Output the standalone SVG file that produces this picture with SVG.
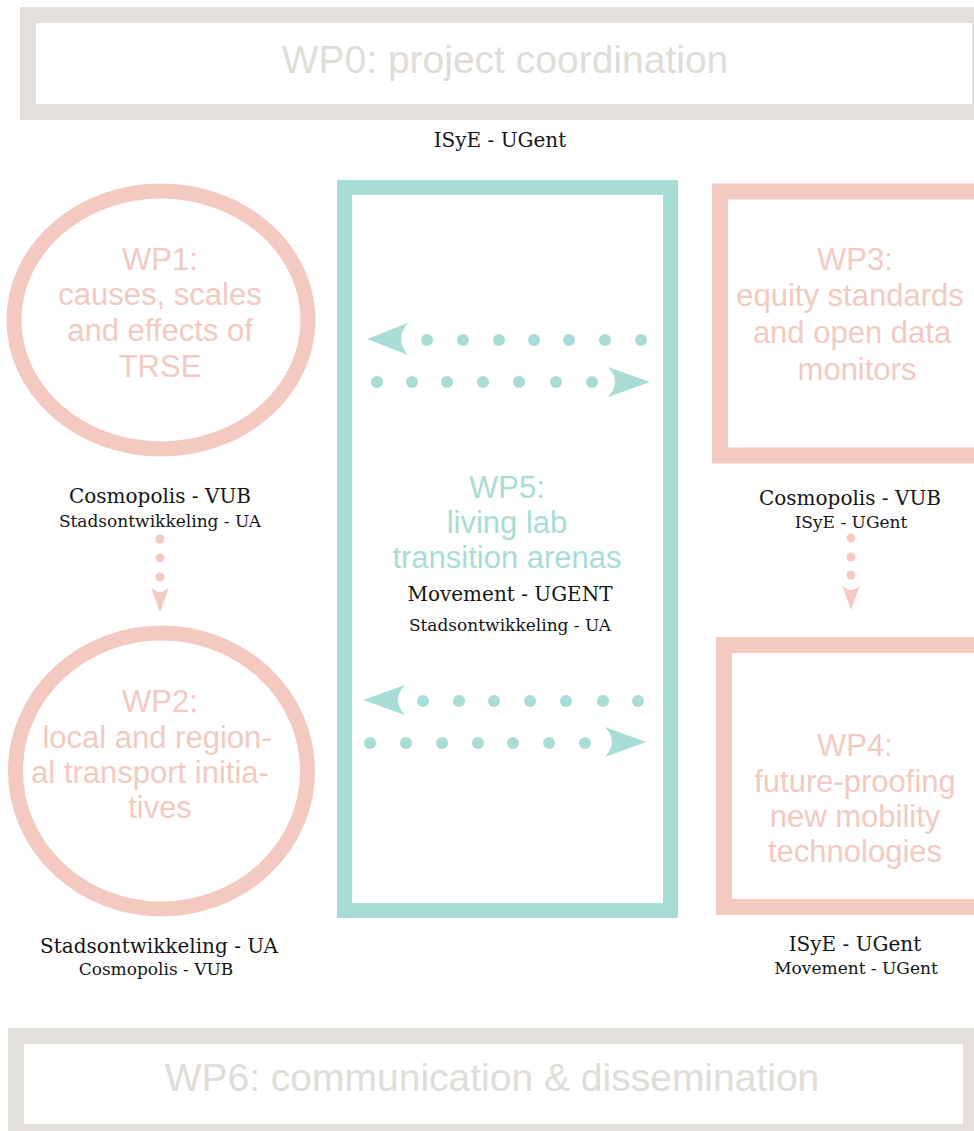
<svg xmlns="http://www.w3.org/2000/svg" width="974" height="1131" viewBox="0 0 974 1131">
<style>
.gbox{fill:none;stroke:#e3e0db;stroke-width:16}
.pbox{fill:none;stroke:#f4c9c0;stroke-width:15}
.tbox{fill:none;stroke:#a7ddd6;stroke-width:15}
.h{font-family:'Liberation Sans',Arial,sans-serif;text-anchor:middle}
.hg{fill:#e0dcd7;font-size:39px}
.hp{fill:#f2cac1;font-size:31px}
.ht{fill:#a8ddd6;font-size:31px}
.lab{font-family:'DejaVu Serif','Liberation Serif',serif;fill:#151515;text-anchor:middle}
.l1{font-size:20px}
.l2{font-size:17px}
.pdot{fill:#f4c9c0}
.tdot{fill:#a7ddd6}
</style>
<rect width="974" height="1131" fill="#ffffff"/>

<g id="wp0">
<rect class="gbox" x="28" y="15" width="952" height="97"/>
<text class="h hg" x="505" y="73">WP0: project coordination</text>
<text class="lab l1" x="500" y="147">ISyE - UGent</text>
</g>

<g id="wp1">
<ellipse class="pbox" cx="161" cy="320" rx="147" ry="129"/>
<text class="h hp" x="160" y="270">WP1:</text>
<text class="h hp" x="160" y="305">causes, scales</text>
<text class="h hp" x="160" y="341">and effects of</text>
<text class="h hp" x="160" y="377">TRSE</text>
<text class="lab l1" x="160" y="503">Cosmopolis - VUB</text>
<text class="lab l2" x="160" y="527">Stadsontwikkeling - UA</text>
</g>

<g id="wp2">
<ellipse class="pbox" cx="161.5" cy="771" rx="146" ry="138"/>
<text class="h hp" x="160" y="712">WP2:</text>
<text class="h hp" x="157" y="748">local and region-</text>
<text class="h hp" x="150" y="783">al transport initia-</text>
<text class="h hp" x="160" y="818">tives</text>
<text class="lab l1" x="159" y="953">Stadsontwikkeling - UA</text>
<text class="lab l2" x="156" y="975">Cosmopolis - VUB</text>
</g>

<g id="wp5">
<rect class="tbox" x="344.5" y="187.5" width="326" height="723"/>
<text class="h ht" x="507" y="498">WP5:</text>
<text class="h ht" x="507" y="533">living lab</text>
<text class="h ht" x="507" y="568">transition arenas</text>
<text class="lab l1" x="510" y="601">Movement - UGENT</text>
<text class="lab l2" x="510" y="631">Stadsontwikkeling - UA</text>
</g>

<g id="wp3">
<rect class="pbox" x="720" y="191.5" width="275" height="264" style="stroke-width:16"/>
<text class="h hp" x="855" y="270">WP3:</text>
<text class="h hp" x="850" y="306">equity standards</text>
<text class="h hp" x="852" y="343">and open data</text>
<text class="h hp" x="857" y="380">monitors</text>
<text class="lab l1" x="850" y="505">Cosmopolis - VUB</text>
<text class="lab l2" x="851" y="528">ISyE - UGent</text>
</g>

<g id="wp4">
<rect class="pbox" x="724" y="645" width="275" height="262" style="stroke-width:16"/>
<text class="h hp" x="855" y="756">WP4:</text>
<text class="h hp" x="855" y="792">future-proofing</text>
<text class="h hp" x="855" y="827">new mobility</text>
<text class="h hp" x="855" y="862">technologies</text>
<text class="lab l1" x="855" y="951">ISyE - UGent</text>
<text class="lab l2" x="856" y="974">Movement - UGent</text>
</g>

<g id="wp6">
<rect class="gbox" x="16" y="1036" width="955" height="96"/>
<text class="h hg" x="492" y="1091">WP6: communication &amp; dissemination</text>
</g>

<g id="connectors">
<g class="tdot">
<circle cx="427" cy="340" r="6"/><circle cx="463" cy="340" r="6"/><circle cx="499" cy="340" r="6"/><circle cx="534" cy="340" r="6"/><circle cx="569" cy="340" r="6"/><circle cx="605" cy="340" r="6"/><circle cx="641" cy="340" r="6"/>
<path d="M367,339 L408,323 Q394,339 408,355 Z"/>
<circle cx="377" cy="382" r="6"/><circle cx="412" cy="382" r="6"/><circle cx="447" cy="382" r="6"/><circle cx="483" cy="382" r="6"/><circle cx="519" cy="382" r="6"/><circle cx="556" cy="382" r="6"/><circle cx="592" cy="382" r="6"/>
<path d="M650,382 L608,367 Q622,382 608,397 Z"/>
<circle cx="423" cy="701" r="6"/><circle cx="459" cy="701" r="6"/><circle cx="494" cy="701" r="6"/><circle cx="530" cy="701" r="6"/><circle cx="566" cy="701" r="6"/><circle cx="603" cy="701" r="6"/><circle cx="638" cy="701" r="6"/>
<path d="M363,700 L405,685 Q391,700 405,715 Z"/>
<circle cx="370" cy="743" r="6"/><circle cx="406" cy="743" r="6"/><circle cx="442" cy="743" r="6"/><circle cx="478" cy="743" r="6"/><circle cx="513" cy="743" r="6"/><circle cx="549" cy="743" r="6"/><circle cx="585" cy="743" r="6"/>
<path d="M646,742 L605,727 Q619,742 605,757 Z"/>
</g>
<g class="pdot">
<circle cx="160" cy="539" r="4.5"/><circle cx="160" cy="558" r="4.5"/><circle cx="160" cy="577" r="4.5"/>
<path d="M160,612 L151,587 Q160,597 169,587 Z"/>
<circle cx="851" cy="538" r="4.5"/><circle cx="851" cy="557" r="4.5"/><circle cx="851" cy="575" r="4.5"/>
<path d="M851,610 L842,585 Q851,595 860,585 Z"/>
</g>
</g>
</svg>
